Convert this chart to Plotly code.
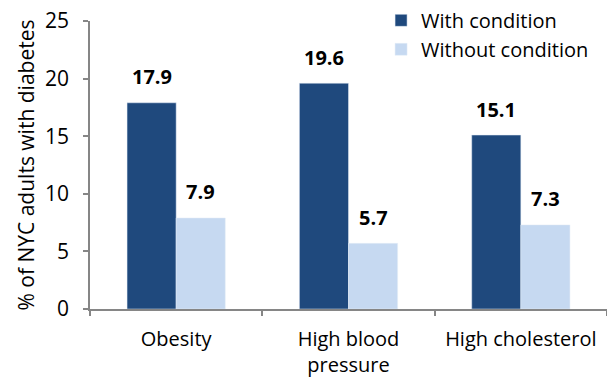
import plotly.graph_objects as go

categories = ["Obesity", "High blood<br>pressure", "High cholesterol"]
with_condition = [17.9, 19.6, 15.1]
without_condition = [7.9, 5.7, 7.3]
series_names = ["With condition", "Without condition"]
y_ticks = [0, 5, 10, 15, 20, 25]

DARK = "#1F497D"
LIGHT = "#C6D9F1"
AXIS = "#868686"
FONT = "Open Sans, sans-serif"

fig = go.Figure()
fig.add_trace(go.Bar(x=categories, y=with_condition, name=series_names[0],
                     marker_color=DARK, legendgroup="a"))
fig.add_trace(go.Bar(x=categories, y=without_condition, name=series_names[1],
                     marker_color=LIGHT, legendgroup="b"))

# value labels above each bar
half = 24.5
for vals, shift in ((with_condition, -half), (without_condition, half)):
    for cat, v in zip(categories, vals):
        fig.add_annotation(x=cat, y=v, text=f"<b>{v:.1f}</b>", showarrow=False,
                           xshift=shift, yshift=26, yanchor="middle",
                           font=dict(size=20, color="black", family=FONT))

fig.update_layout(
    width=607, height=379,
    margin=dict(l=90, r=0, t=21, b=70),
    paper_bgcolor="white", plot_bgcolor="white",
    font=dict(family=FONT, size=20, color="black"),
    barmode="group", bargap=0.43, bargroupgap=0,
    showlegend=True,
    legend=dict(x=0.563, y=1.07, xanchor="left", yanchor="top",
                bgcolor="rgba(0,0,0,0)", tracegroupgap=0,
                font=dict(size=20, family=FONT)),
    xaxis=dict(showline=True, linecolor=AXIS, linewidth=1.5,
               ticks="outside", tickson="boundaries", ticklen=5,
               tickcolor=AXIS, tickwidth=1.5, ticklabelstandoff=11,
               showgrid=False, tickfont=dict(size=20)),
    yaxis=dict(range=[0, 25], tickvals=y_ticks, showline=True,
               linecolor=AXIS, linewidth=1.5, ticks="outside", ticklen=5,
               tickcolor=AXIS, tickwidth=1.5, showgrid=False, zeroline=False,
               ticklabelstandoff=10, tickfont=dict(size=21),
               title=dict(text="% of NYC adults with diabetes",
                          font=dict(size=21), standoff=5)),
)

fig.write_html("out.html")
